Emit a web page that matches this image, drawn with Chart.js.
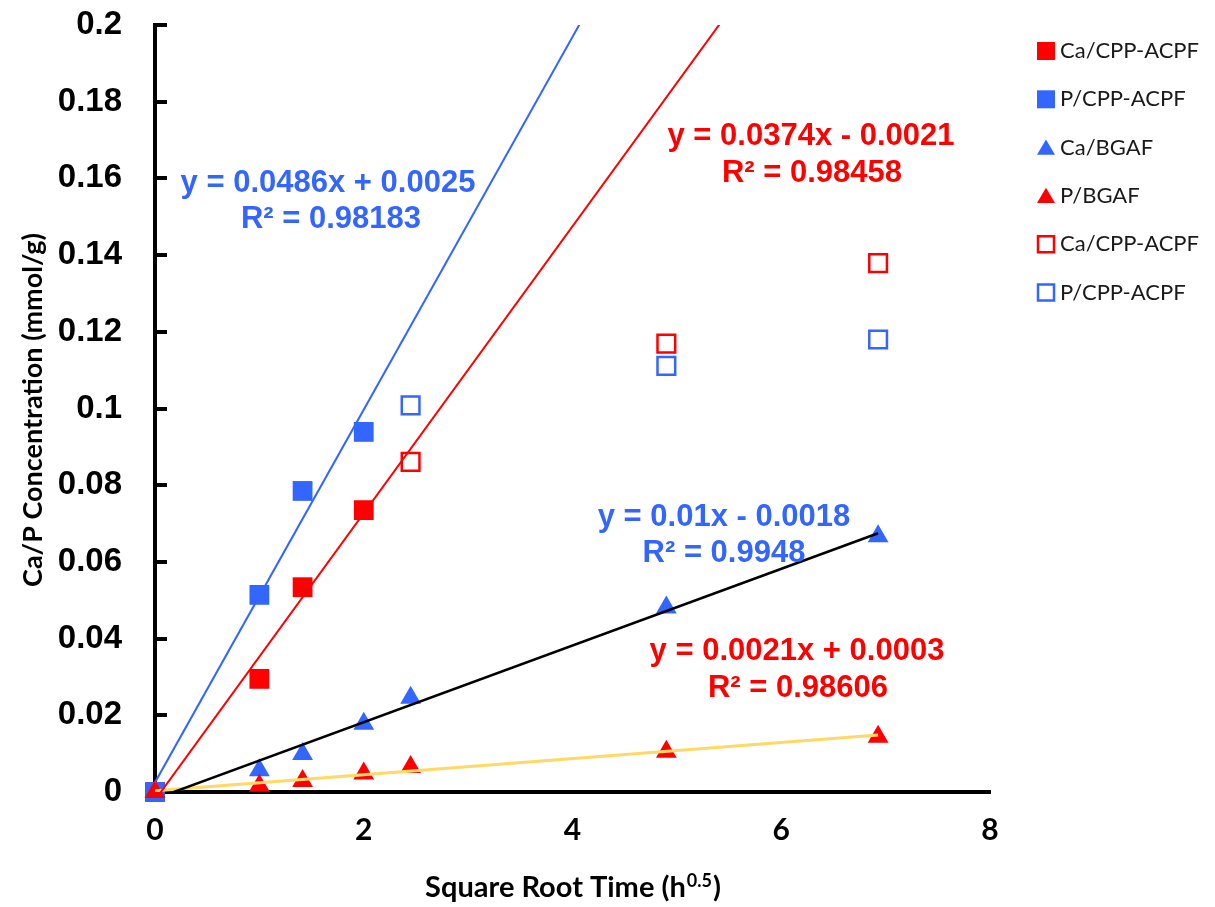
<!DOCTYPE html>
<html>
<head>
<meta charset="utf-8">
<script src="https://cdn.jsdelivr.net/npm/chart.js@4.4.1/dist/chart.umd.min.js"></script>
<style>
  body { margin: 0; background: #fff; }
</style>
</head>
<body>
<canvas id="chart" width="1215" height="907"></canvas>
<script>
// ---------- data ----------
const xEarly = [0, 1, 1.414, 2];
const xLate = [2.449, 4.899, 6.928];
const xAll = [0, 1, 1.414, 2, 2.449, 4.899, 6.928];

const caCppEarly = [0, 0.0295, 0.0534, 0.0735];
const pCppEarly = [0, 0.0514, 0.0785, 0.0939];
const caBgaf = [0, 0.0057, 0.0099, 0.0178, 0.0246, 0.0481, 0.0667];
const pBgaf = [0, 0.0016, 0.0029, 0.0048, 0.0065, 0.0105, 0.0144];
const caCppLate = [0.0861, 0.1169, 0.1379];
const pCppLate = [0.1008, 0.1111, 0.118];

const seriesNames = ["Ca/CPP-ACPF", "P/CPP-ACPF", "Ca/BGAF", "P/BGAF", "Ca/CPP-ACPF", "P/CPP-ACPF"];

// trendlines as given in the figure
const trendSlopes = [0.0486, 0.0374, 0.01, 0.0021];
const trendIntercepts = [0.0025, -0.0021, -0.0018, 0.0003];
const trendR2 = ["0.98183", "0.98458", "0.9948", "0.98606"];
const trendEqs = ["y = 0.0486x + 0.0025", "y = 0.0374x - 0.0021", "y = 0.01x - 0.0018", "y = 0.0021x + 0.0003"];
const trendEnd = [6.928, 6.928, 6.928, 6.928];

const yTickLabels = ["0", "0.02", "0.04", "0.06", "0.08", "0.1", "0.12", "0.14", "0.16", "0.18", "0.2"];

// ---------- styles ----------
const RED = "#FF0000";
const BLUE = "#3366FF";
const trendColors = [BLUE, RED, "#000000", "#FFD966"];
const trendWidths = [2, 2, 2.5, 3];

const pts = (xs, ys) => xs.map((x, i) => ({ x, y: ys[i] }));

const markerSets = [
  { data: pts(xEarly, caCppEarly), style: "rect", fill: RED, stroke: RED, r: 14, bw: 0 },
  { data: pts(xEarly, pCppEarly), style: "rect", fill: BLUE, stroke: BLUE, r: 14, bw: 0 },
  { data: pts(xAll, caBgaf), style: "triangle", fill: BLUE, stroke: BLUE, r: 12, bw: 0 },
  { data: pts(xAll, pBgaf), style: "triangle", fill: RED, stroke: RED, r: 12, bw: 0 },
  { data: pts(xLate, caCppLate), style: "rect", fill: "rgba(0,0,0,0)", stroke: RED, r: 12.5, bw: 2.5 },
  { data: pts(xLate, pCppLate), style: "rect", fill: "rgba(0,0,0,0)", stroke: BLUE, r: 12.5, bw: 2.5 },
];

const datasets = [];
trendSlopes.forEach((m, i) => {
  datasets.push({
    label: "trend" + i,
    data: [0, trendEnd[i]].map((x) => ({ x, y: m * x + trendIntercepts[i] })),
    showLine: true,
    borderColor: trendColors[i],
    borderWidth: trendWidths[i],
    pointRadius: 0,
    order: 0,
  });
});
markerSets.forEach((s, i) => {
  datasets.push({
    label: seriesNames[i],
    data: s.data,
    pointStyle: s.style,
    pointRadius: s.r,
    pointHoverRadius: s.r,
    backgroundColor: s.fill,
    borderColor: s.stroke,
    pointBorderWidth: s.bw,
    clip: false,
    order: 10 - i,
  });
});

// equation labels
const eqPlacement = [
  { i: 0, x: 328, y1: 183, x2: 331, y2: 219 },
  { i: 1, x: 811, y1: 136, x2: 812, y2: 173 },
  { i: 2, x: 724, y1: 517, x2: 724, y2: 553 },
  { i: 3, x: 797, y1: 651, x2: 798, y2: 688 },
];
const eqColors = [BLUE, RED, BLUE, RED];

function drawMarker(ctx, style, x, y, size, fill, stroke, bw) {
  ctx.save();
  ctx.beginPath();
  if (style === "rect") {
    ctx.rect(x - size / 2, y - size / 2, size, size);
  } else {
    ctx.moveTo(x, y - size * 0.45);
    ctx.lineTo(x + size / 2, y + size * 0.4);
    ctx.lineTo(x - size / 2, y + size * 0.4);
    ctx.closePath();
  }
  ctx.fillStyle = fill;
  ctx.fill();
  if (bw) {
    ctx.lineWidth = bw;
    ctx.strokeStyle = stroke;
    ctx.stroke();
  }
  ctx.restore();
}

const decor = {
  id: "decor",
  afterDraw(chart) {
    const { ctx, chartArea, scales } = chart;
    const yScale = scales.y;

    // inner tick marks on y axis
    ctx.save();
    ctx.strokeStyle = "#000";
    ctx.lineWidth = 4;
    yScale.ticks.forEach((t) => {
      const py = Math.round(yScale.getPixelForValue(t.value));
      if (py > chartArea.bottom - 3) return;
      ctx.beginPath();
      ctx.moveTo(chartArea.left, py);
      ctx.lineTo(chartArea.left + 12, py);
      ctx.stroke();
    });
    ctx.restore();

    // trendline equations
    ctx.save();
    ctx.font = "bold 31px 'Liberation Sans', Arial, sans-serif";
    ctx.textAlign = "center";
    ctx.textBaseline = "middle";
    eqPlacement.forEach((p) => {
      ctx.fillStyle = eqColors[p.i];
      ctx.fillText(trendEqs[p.i], p.x, p.y1);
      ctx.fillText("R² = " + trendR2[p.i], p.x2, p.y2);
    });
    ctx.restore();

    // axis titles
    ctx.save();
    ctx.fillStyle = "#000";
    ctx.textBaseline = "alphabetic";
    const mainFont = "bold 29px Lato, sans-serif";
    const supFont = "bold 18px Lato, sans-serif";
    const partA = "Square Root Time (h";
    const partB = "0.5";
    const partC = ")";
    ctx.font = mainFont;
    const wA = ctx.measureText(partA).width;
    const wC = ctx.measureText(partC).width;
    ctx.font = supFont;
    const wB = ctx.measureText(partB).width;
    const tx = 572 - (wA + wB + wC) / 2;
    const ty = 897;
    ctx.font = mainFont;
    ctx.fillText(partA, tx, ty);
    ctx.font = supFont;
    ctx.fillText(partB, tx + wA + 1, ty - 10);
    ctx.font = mainFont;
    ctx.fillText(partC, tx + wA + wB + 2, ty);

    ctx.translate(33, 410);
    ctx.rotate(-Math.PI / 2);
    ctx.font = "bold 27px Lato, sans-serif";
    ctx.textAlign = "center";
    ctx.textBaseline = "middle";
    ctx.fillText("Ca/P Concentration (mmol/g)", 0, 0);
    ctx.restore();

    // legend
    ctx.save();
    ctx.font = "22px Lato, sans-serif";
    ctx.textBaseline = "middle";
    markerSets.forEach((s, i) => {
      const ly = 51 + i * 48.3;
      if (s.style === "rect") {
        drawMarker(ctx, "rect", 1046, ly, s.bw ? 16 : 18, s.fill, s.stroke, s.bw);
      } else {
        drawMarker(ctx, "triangle", 1046, ly, 18, s.fill, s.stroke, 0);
      }
      ctx.fillStyle = "#1a1a1a";
      ctx.fillText(seriesNames[i], 1060, ly);
    });
    ctx.restore();
  },
};

new Chart(document.getElementById("chart"), {
  type: "scatter",
  data: { datasets },
  options: {
    responsive: false,
    animation: false,
    layout: { padding: { top: 25, right: 225, left: 0, bottom: 0 } },
    plugins: { legend: { display: false }, tooltip: { enabled: false } },
    scales: {
      x: {
        type: "linear",
        min: 0,
        max: 8,
        afterFit: (s) => { s.height = 115; },
        ticks: {
          stepSize: 2,
          color: "#000",
          padding: 0,
          font: { family: "Lato", size: 30, weight: "bold" },
        },
        grid: { display: false, drawTicks: true, tickLength: 20 },
        border: { color: "#000", width: 4 },
      },
      y: {
        type: "linear",
        min: 0,
        max: 0.2,
        afterFit: (s) => { s.width = 155; },
        ticks: {
          stepSize: 0.02,
          color: "#000",
          padding: 0,
          font: { family: "'Liberation Sans', Arial", size: 33, weight: "bold" },
          callback: (v) => yTickLabels[Math.round(v / 0.02)],
        },
        grid: { display: false, drawTicks: true, tickLength: 33 },
        border: { color: "#000", width: 4 },
      },
    },
  },
  plugins: [decor],
});
</script>
</body>
</html>
